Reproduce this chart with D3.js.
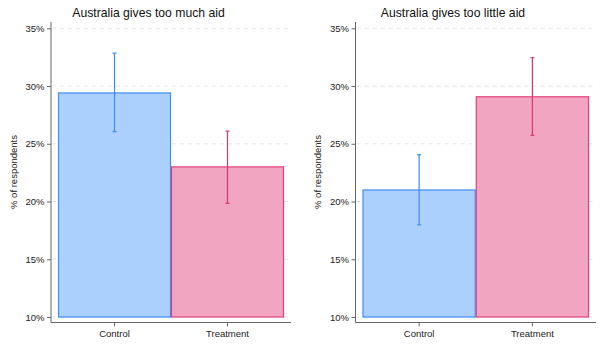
<!DOCTYPE html>
<html><head><meta charset="utf-8">
<script src="https://cdn.jsdelivr.net/npm/d3@7"></script>
<style>body{margin:0;background:#fff}svg{display:block}text{font-family:"Liberation Sans",Arial,sans-serif}</style>
</head><body>
<svg id="c" width="600" height="344"></svg>
<script>
const categories = ["Control", "Treatment"];
const panelTitles = ["Australia gives too much aid", "Australia gives too little aid"];
const muchValues = [29.4, 23.0];
const muchLow = [26.05, 19.85];
const muchHigh = [32.85, 26.1];
const littleValues = [21.0, 29.07];
const littleLow = [17.98, 25.73];
const littleHigh = [24.05, 32.45];
const yTicks = [10, 15, 20, 25, 30, 35];
const yLabel = "% of respondents";

const fills = ["#a6cdfd", "#f0a0bd"];
const strokes = ["#3d8ef5", "#e2407c"];
const errColors = ["#3a8cf2", "#d9376f"];

const svg = d3.select("#c");
const panels = [
  {title: panelTitles[0], v: muchValues, lo: muchLow, hi: muchHigh, ax: 51, right: 291, bx0: 58, bx1: 284, labX: 14, tx: 148.5},
  {title: panelTitles[1], v: littleValues, lo: littleLow, hi: littleHigh, ax: 355.5, right: 596, bx0: 362.5, bx1: 589, labX: 318, tx: 453}
];
const y = d3.scaleLinear().domain([10, 35]).range([317, 28.3]);

panels.forEach(p => {
  const g = svg.append("g");
  const x = d3.scaleBand().domain(categories).range([p.bx0, p.bx1]).padding(0);
  g.selectAll(".grid").data(yTicks).join("line")
    .attr("x1", p.ax + 1).attr("x2", p.right)
    .attr("y1", d => y(d)).attr("y2", d => y(d))
    .attr("stroke", "#e6e6e6").attr("stroke-width", 1).attr("stroke-dasharray", "4,4");
  g.selectAll(".bar").data(categories).join("rect")
    .attr("x", d => x(d) + 0.5)
    .attr("width", x.bandwidth() - 1)
    .attr("y", (d, i) => y(p.v[i]))
    .attr("height", (d, i) => y(10) - y(p.v[i]))
    .attr("fill", (d, i) => fills[i])
    .attr("fill-opacity", 0.95)
    .attr("stroke", (d, i) => strokes[i]).attr("stroke-width", 1.2);
  categories.forEach((c, i) => {
    const cx = x(c) + x.bandwidth() / 2;
    const col = errColors[i];
    g.append("line").attr("x1", cx).attr("x2", cx).attr("y1", y(p.lo[i])).attr("y2", y(p.hi[i]))
      .attr("stroke", col).attr("stroke-width", 1.2);
    [p.lo[i], p.hi[i]].forEach(v => {
      g.append("line").attr("x1", cx - 2).attr("x2", cx + 2).attr("y1", y(v)).attr("y2", y(v))
        .attr("stroke", col).attr("stroke-width", 1.2);
    });
  });
  const ya = g.append("g").attr("transform", `translate(${p.ax},0)`)
    .call(d3.axisLeft(y).tickValues(yTicks).tickFormat(d => d + "%").tickSize(4).tickPadding(2.5));
  ya.select(".domain").attr("d", `M0,22V322.5`).attr("stroke", "#666");
  ya.selectAll(".tick line").attr("stroke", "#666");
  ya.selectAll("text").attr("font-size", 9.5).attr("fill", "#222");
  const xa = g.append("g").attr("transform", `translate(0,322.5)`)
    .call(d3.axisBottom(x).tickSize(4).tickPadding(4));
  xa.select(".domain").attr("d", `M${p.ax},0H${p.right}`).attr("stroke", "#666");
  xa.selectAll(".tick line").attr("stroke", "#666");
  xa.selectAll("text").attr("font-size", 9.5).attr("fill", "#222");
  g.append("text").attr("x", p.tx).attr("y", 17).attr("text-anchor", "middle")
    .attr("font-size", 12.2).attr("fill", "#111").text(p.title);
  g.append("text").attr("transform", `translate(${p.labX},172) rotate(-90)`).attr("text-anchor", "middle")
    .attr("dy", "0.35em").attr("font-size", 9.5).attr("fill", "#222").text(yLabel);
});
</script>
</body></html>
